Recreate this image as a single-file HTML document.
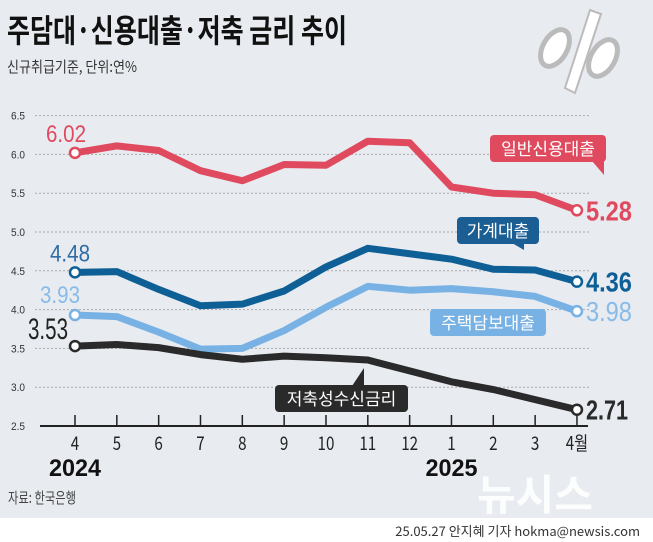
<!DOCTYPE html>
<html><head><meta charset="utf-8"><style>
body{margin:0;width:653px;height:542px;overflow:hidden;background:#fff;font-family:"Liberation Sans","Noto Sans CJK KR",sans-serif}
#bg{position:absolute;left:0;top:0;width:653px;height:518px;background:#e8ebf0}
svg{position:absolute;left:0;top:0}
</style></head><body>
<div id="bg"></div>
<svg width="653" height="542">
<text x="7" y="42" font-size="32" font-weight="bold" fill="#111" font-family="Noto Sans CJK KR, sans-serif" textLength="340" lengthAdjust="spacingAndGlyphs">주담대·신용대출·저축 금리 추이</text>
<text x="7" y="72" font-size="15" fill="#333" font-family="Noto Sans CJK KR, sans-serif" textLength="130" lengthAdjust="spacingAndGlyphs">신규취급기준, 단위:연%</text>
<g transform="translate(535,8)">
<ellipse cx="20" cy="40" rx="12" ry="20" fill="#fff" stroke="#bbb" stroke-width="5" transform="rotate(30 20 40)"/>
<polygon points="55,2 66,6 40,85 30,80" fill="#fff" stroke="#bbb" stroke-width="2"/>
<ellipse cx="68" cy="50" rx="12" ry="20" fill="#fff" stroke="#bbb" stroke-width="5" transform="rotate(30 68 50)"/>
</g>
<g id="grid"></g><g id="axis"></g><g id="series"></g>
<text x="8" y="503" font-size="15" fill="#444" font-family="Noto Sans CJK KR, sans-serif" textLength="68" lengthAdjust="spacingAndGlyphs">자료: 한국은행</text>
<text x="477" y="510" font-size="42" font-weight="bold" fill="#fff" font-family="Noto Sans CJK KR, sans-serif" opacity="0.9">뉴시스</text>
<text x="640" y="536" font-size="13" fill="#333" text-anchor="end" font-family="Noto Sans CJK KR, sans-serif">25.05.27 안지혜 기자 hokma@newsis.com</text>
</svg>
<script>
const months=['4','5','6','7','8','9','10','11','12','1','2','3','4월'];
const yTicks=[2.5,3.0,3.5,4.0,4.5,5.0,5.5,6.0,6.5];
const credit=[6.02,6.11,6.05,5.79,5.66,5.87,5.86,6.17,6.15,5.58,5.50,5.48,5.28];
const household=[4.48,4.49,4.26,4.05,4.07,4.24,4.55,4.79,4.72,4.65,4.52,4.51,4.36];
const mortgage=[3.93,3.91,3.71,3.49,3.50,3.73,4.03,4.30,4.25,4.27,4.23,4.17,3.98];
const deposit=[3.53,3.55,3.51,3.42,3.36,3.40,3.38,3.35,3.21,3.07,2.97,2.84,2.71];
const NS='http://www.w3.org/2000/svg';
const x=i=>75+i*41.83;
const y=v=>426-(v-2.5)*77.6;
function mk(t,a,p,txt){const e=document.createElementNS(NS,t);for(const k in a)e.setAttribute(k,a[k]);if(txt!=null)e.textContent=txt;p.appendChild(e);return e;}
const grid=document.getElementById('grid'),axis=document.getElementById('axis'),ser=document.getElementById('series');
yTicks.forEach(v=>{
 if(v>2.5){const l=mk('line',{x1:35,x2:590,y1:y(v),y2:y(v),stroke:'#aaa','stroke-dasharray':'2,2','stroke-width':1},grid);
 
 }
 const t=mk('text',{x:11,y:y(v)+4,'font-size':11,fill:'#333',textLength:14,lengthAdjust:'spacingAndGlyphs'},grid,v.toFixed(1));
 
 
});
const ax=mk('line',{x1:40,x2:588,y1:426,y2:426,stroke:'#222','stroke-width':2},axis);


months.forEach((m,i)=>{
 mk('line',{x1:x(i),x2:x(i),y1:415,y2:426,stroke:'#222','stroke-width':1.5},axis);
 const t=mk('text',{x:x(i),y:450,'font-size':19,fill:'#222','text-anchor':'middle','font-family':'Noto Sans CJK KR, sans-serif',transform:`translate(${x(i)},0) scale(0.8,1) translate(${-x(i)},0)`},axis,m);
 
 
});
[[0,'2024'],[9,'2025']].forEach(([i,s])=>{const t=mk('text',{x:x(i)-26,y:476,'font-size':24,'font-weight':'bold',fill:'#111',textLength:52,lengthAdjust:'spacingAndGlyphs'},axis,s);
 
 });
const defs=[
 [credit,'#e04a5f','credit-loan',[490,135,'일반신용대출',602,175,'#e04a5f']],
 [household,'#0e5f96','household-loan',[457,217,'가계대출',522,250,'#1a5e94']],
 [mortgage,'#78b2e4','mortgage-loan',[430,309,'주택담보대출',0,0,'#78b2e4']],
 [deposit,'#2a2a2a','deposit-rate',[275,385,'저축성수신금리',362,368,'#2a2a2a']]
];
const labelsL=[[46,y(6.02)-11,'#e04a5f'],[50,y(4.48)-11,'#2e6da4'],[40,y(3.93)-12,'#88bbe8'],[28,y(3.53)-7,'#222']];
defs.forEach(([d,c,n,b],k)=>{
 const p=mk('polyline',{points:d.map((v,i)=>x(i)+','+y(v)).join(' '),fill:'none',stroke:c,'stroke-width':7,'stroke-linejoin':'round'},ser);
 
 
 [0,d.length-1].forEach(i=>{const ci=mk('circle',{cx:x(i),cy:y(d[i]),r:5,fill:'#fff',stroke:c,'stroke-width':2.5},ser);
  
  });
 const L=labelsL[k];
 const big=k==3;
 const t1=mk('text',{x:L[0],y:L[1],'font-size':big?30:24,fill:L[2],textLength:big?40:40,lengthAdjust:'spacingAndGlyphs'},ser,d[0].toFixed(2));
 
 
 const t2=mk('text',{x:x(12)+9,y:y(d[12])+10,'font-size':28,'font-weight':k==2?'normal':'bold',fill:k==2?'#88bbe8':c,textLength:k==3?42:46,lengthAdjust:'spacingAndGlyphs'},ser,d[12].toFixed(2));
 
 
 const g=mk('g',{},ser);
 
 
 const w=b[2].length*17+14;
 mk('rect',{x:b[0],y:b[1],width:w,height:27,rx:4,fill:b[5]},g);
 if(b[3])mk('polygon',{points:`${b[3]-10},${b[1]+(b[4]>b[1]?26:1)} ${b[3]+2},${b[1]+(b[4]>b[1]?26:1)} ${b[3]+2},${b[4]}`,fill:b[5]},g);
 mk('text',{x:b[0]+w/2,y:b[1]+20,'font-size':17,fill:'#fff','text-anchor':'middle','font-family':'Noto Sans CJK KR, sans-serif'},g,b[2]);
});
</script>
</body></html>
